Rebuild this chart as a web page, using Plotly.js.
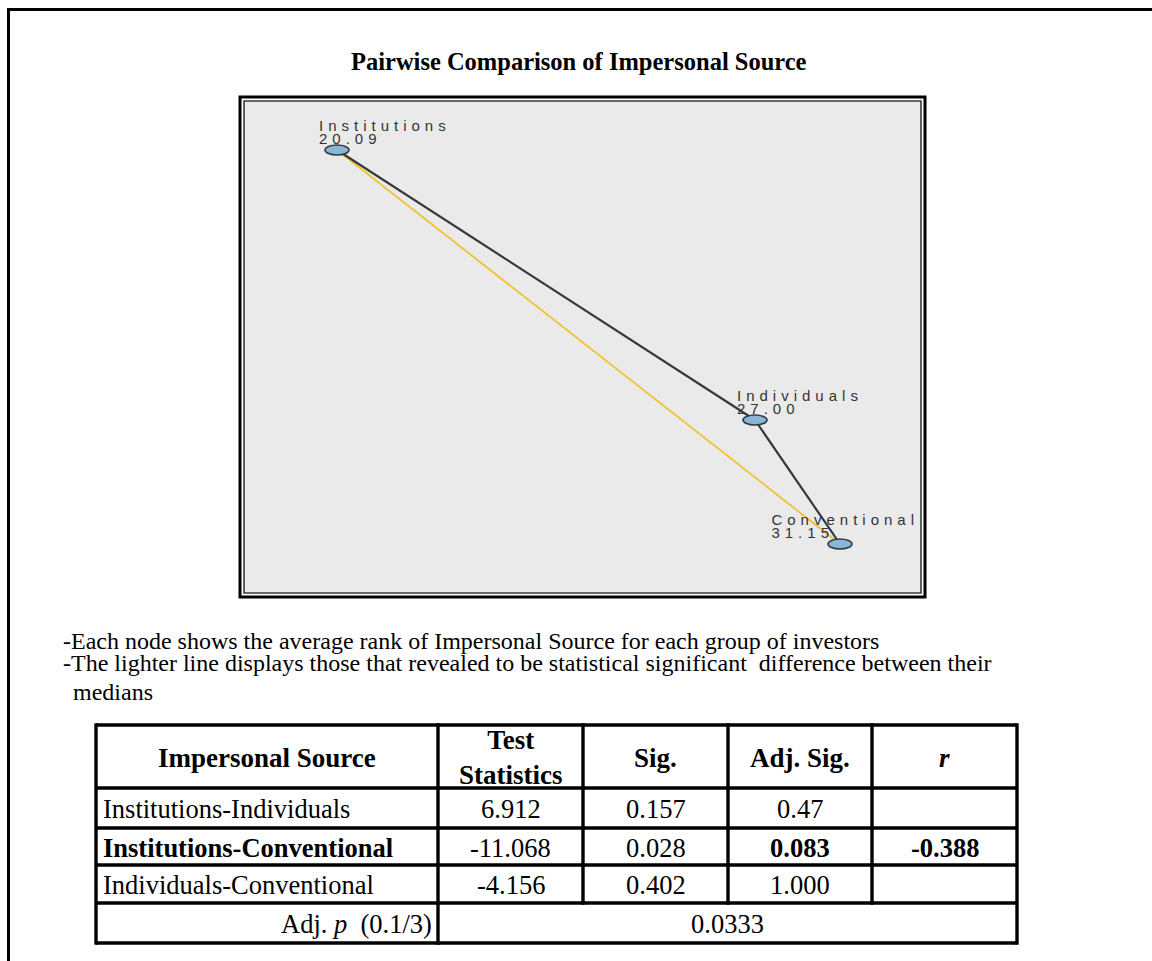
<!DOCTYPE html>
<html><head><meta charset="utf-8">
<script src="https://cdn.plot.ly/plotly-3.0.1.min.js"></script>
<style>html,body{margin:0;padding:0;background:#fff;}#chart{width:1152px;height:961px;}</style>
</head><body><div id="chart"></div>
<script>
// ---------- data ----------
const chartTitle = "Pairwise Comparison of Impersonal Source";
const nodeNames = ["Institutions", "Individuals", "Conventional"];
const meanRanks = [20.09, 27.00, 31.15];
// node layout positions (network layout units)
const nodeX = [93, 511, 596];
const nodeY = [443, 173, 49];
const edgeFrom = [0, 1, 0];
const edgeTo = [1, 2, 2];
const edgeSignificant = [false, false, true];

const notes = [
  "-Each node shows the average rank of Impersonal Source for each group of investors",
  "-The lighter line displays those that revealed to be statistical significant  difference between their",
  "medians"
];

const headerLabels = ["Impersonal Source", "Test<br>Statistics", "Sig.", "Adj. Sig.", "<i>r</i>"];
const comparisons = ["Institutions-Individuals", "Institutions-Conventional", "Individuals-Conventional"];
const testStatistics = ["6.912", "-11.068", "-4.156"];
const sigValues = ["0.157", "0.028", "0.402"];
const adjSigValues = ["0.47", "0.083", "1.000"];
const rValues = ["", "-0.388", ""];
const boldRows = [false, true, false];
const adjPLabel = "Adj. <i>p</i>\u00a0 (0.1/3)";
const adjPValue = "0.0333";

// ---------- geometry ----------
const W = 1152, H = 961;
const px = x => x / W;
const py = y => 1 - y / H;
const box = {l: 240, r: 925, t: 97, b: 597};
const inset = 4;
const inner = {l: box.l + inset, r: box.r - inset, t: box.t + inset, b: box.b - inset};
const colX = [96, 438, 583, 728, 872, 1017];
const rowY = [725, 788, 828, 865, 903, 943];

const serif = "Liberation Serif, Times New Roman, serif";
const sans = "Liberation Sans, Arial, sans-serif";
const YELLOW = "#F1C232", DARK = "#383838";

// ---------- traces ----------
const order = [2, 0, 1]; // draw significant (yellow) edge first
const traces = [];
for (const i of order) {
  const a = edgeFrom[i], b = edgeTo[i];
  traces.push({
    type: "scatter", mode: "lines",
    x: [nodeX[a], nodeX[b]], y: [nodeY[a], nodeY[b]],
    line: {color: edgeSignificant[i] ? YELLOW : DARK, width: edgeSignificant[i] ? 1.8 : 2.2},
    hoverinfo: "skip", showlegend: false
  });
}

// ---------- shapes ----------
const shapes = [];
shapes.push({type: "line", xref: "paper", yref: "paper", x0: px(8), x1: px(1152), y0: py(9.5), y1: py(9.5), line: {color: "#000", width: 3}});
shapes.push({type: "line", xref: "paper", yref: "paper", x0: px(8.5), x1: px(8.5), y0: py(8), y1: py(961), line: {color: "#000", width: 3}});
shapes.push({type: "rect", xref: "paper", yref: "paper", x0: px(box.l), x1: px(box.r), y0: py(box.b), y1: py(box.t), line: {color: "#000", width: 3}, layer: "below"});
shapes.push({type: "rect", xref: "paper", yref: "paper", x0: px(inner.l), x1: px(inner.r), y0: py(inner.b), y1: py(inner.t), line: {color: "#3a3a3a", width: 1.6}, fillcolor: "#EAEAEA", layer: "below"});
for (let i = 0; i < nodeX.length; i++) {
  shapes.push({type: "circle", xref: "x", yref: "y", x0: nodeX[i] - 12, x1: nodeX[i] + 12, y0: nodeY[i] - 5, y1: nodeY[i] + 5,
    fillcolor: "#88B6D4", line: {color: "#2d3b46", width: 1.6}, layer: "above"});
}
for (let k = 0; k < colX.length; k++) {
  const x = colX[k];
  const yBot = (k >= 2 && k <= 4) ? rowY[4] : rowY[5];
  shapes.push({type: "line", xref: "paper", yref: "paper", x0: px(x), x1: px(x), y0: py(rowY[0] - 1.7), y1: py(yBot + 1.7), line: {color: "#000", width: 3.4}});
}
for (const y of rowY) {
  shapes.push({type: "line", xref: "paper", yref: "paper", x0: px(colX[0]), x1: px(colX[5]), y0: py(y), y1: py(y), line: {color: "#000", width: 3.4}});
}

// ---------- annotations ----------
const ann = [];
const A = (o) => ann.push(Object.assign({xref: "paper", yref: "paper", showarrow: false, yanchor: "middle"}, o));
A({x: px(579), y: py(61), text: "<b>" + chartTitle + "</b>", font: {family: serif, size: 24.5, color: "#000"}, xanchor: "center"});
for (let i = 0; i < nodeX.length; i++) {
  A({xref: "x", yref: "y", x: nodeX[i] - 20, y: nodeY[i] + 25, text: nodeNames[i], font: {family: sans, size: 15, color: "#333"}, xanchor: "left"});
  A({xref: "x", yref: "y", x: nodeX[i] - 20, y: nodeY[i] + 12, text: meanRanks[i].toFixed(2), font: {family: sans, size: 15, color: "#333"}, xanchor: "left"});
}
const noteY = [641, 663, 692], noteX = [61, 61, 71];
notes.forEach((t, i) => A({x: px(noteX[i]), y: py(noteY[i]), text: t, font: {family: serif, size: 24, color: "#000"}, xanchor: "left"}));

const cx = i => px((colX[i] + colX[i + 1]) / 2);
const cy = j => py((rowY[j] + rowY[j + 1]) / 2 + 1);
headerLabels.forEach((t, i) => A({x: cx(i), y: cy(0), text: "<b>" + t + "</b>", font: {family: serif, size: 27, color: "#000"}, xanchor: "center", align: "center"}));
const B = (t, on) => on ? "<b>" + t + "</b>" : t;
for (let r = 0; r < comparisons.length; r++) {
  A({x: px(colX[0] + 5), y: cy(r + 1), text: B(comparisons[r], boldRows[r]), font: {family: serif, size: 26.5, color: "#000"}, xanchor: "left"});
  const cells = [testStatistics[r], sigValues[r], B(adjSigValues[r], boldRows[r]), B(rValues[r], rValues[r] !== "")];
  cells.forEach((t, c) => { if (t) A({x: cx(c + 1), y: cy(r + 1), text: t, font: {family: serif, size: 26.5, color: "#000"}, xanchor: "center"}); });
}
A({x: px(colX[1] - 4), y: cy(4), text: adjPLabel, font: {family: serif, size: 26.5, color: "#000"}, xanchor: "right"});
A({x: px((colX[1] + colX[5]) / 2), y: cy(4), text: adjPValue, font: {family: serif, size: 26.5, color: "#000"}, xanchor: "center"});

const layout = {
  width: W, height: H, margin: {l: 0, r: 0, t: 0, b: 0},
  paper_bgcolor: "#fff", plot_bgcolor: "rgba(0,0,0,0)", showlegend: false,
  xaxis: {domain: [px(inner.l), px(inner.r)], range: [0, inner.r - inner.l], visible: false, fixedrange: true},
  yaxis: {domain: [py(inner.b), py(inner.t)], range: [0, inner.b - inner.t], visible: false, fixedrange: true},
  shapes: shapes, annotations: ann
};
Plotly.newPlot("chart", traces, layout, {displayModeBar: false, staticPlot: true}).then(() => {
  const texts = Array.from(document.querySelectorAll(".annotation-text"));
  const chartRect = document.getElementById("chart").getBoundingClientRect();
  for (let i = 0; i < nodeNames.length; i++) {
    const els = [texts.find(t => t.textContent === nodeNames[i]), texts.find(t => t.textContent === meanRanks[i].toFixed(2))];
    els.forEach(el => {
      if (!el) return;
      const bb = el.getBBox();
      el.setAttribute("text-anchor", "start");
      el.setAttribute("x", bb.x);
      el.style.letterSpacing = "5px";
    });
    // keep the label inside the plot frame (shift left when it would overflow)
    if (els[0]) {
      const rr = els[0].getBoundingClientRect();
      const over = (rr.right - chartRect.left) - (inner.r - 2);
      if (over > 0) els.forEach(el => el && el.setAttribute("x", parseFloat(el.getAttribute("x")) - over));
    }
  }
});
</script></body></html>
